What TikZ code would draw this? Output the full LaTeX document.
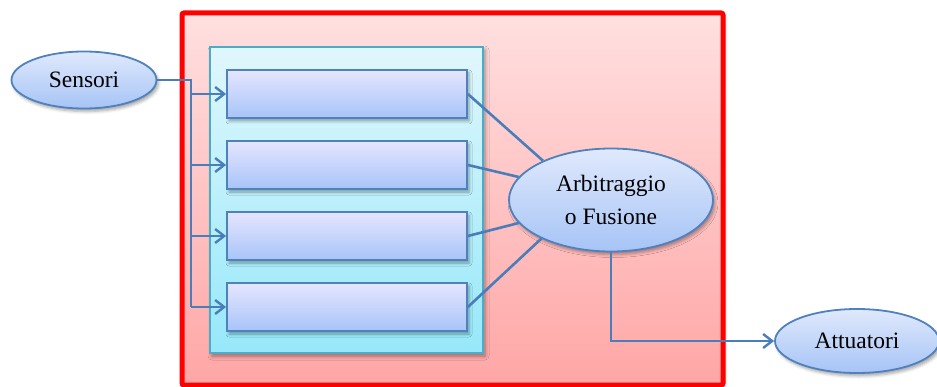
\documentclass[tikz,border=0pt]{standalone}
\usepackage{fontspec}
\setmainfont{Liberation Serif}
\usetikzlibrary{arrows.meta,shapes.geometric,shadows.blur}
\definecolor{wire}{HTML}{4A7EBB}
\definecolor{boxline}{HTML}{4F81BD}
\definecolor{panelline}{HTML}{4BACC6}
\tikzset{
  wirestyle/.style={draw=wire,line width=2.6pt},
  tip/.style={-{Straight Barb[length=9pt,width=14pt,line width=2.4pt]}},
  behavior/.style={rectangle,draw=boxline,line width=1.8pt,
    top color=blue!10!white,bottom color={rgb,255:red,168;green,196;blue,248},
    minimum width=240pt,minimum height=48pt,inner sep=0pt,
    blur shadow={shadow xshift=2pt,shadow yshift=-3pt,shadow blur radius=3pt,shadow opacity=35}},
  blob/.style={ellipse,draw=boxline,line width=1.8pt,
    top color={rgb,255:red,224;green,233;blue,252},bottom color={rgb,255:red,166;green,196;blue,246},
    inner sep=0pt,font=\fontsize{23.5}{33}\selectfont,align=center,
    blur shadow={shadow xshift=2pt,shadow yshift=-3pt,shadow blur radius=3pt,shadow opacity=35}},
}
\begin{document}
\begin{tikzpicture}[x=1pt,y=-1pt]
\useasboundingbox (0,0) rectangle (937,387);
% outer red frame
\path[draw=red,line width=5pt,rounded corners=2pt,
  top color={rgb,255:red,255;green,224;blue,224},bottom color={rgb,255:red,255;green,166;blue,166},
  blur shadow={shadow xshift=2pt,shadow yshift=-2pt,shadow blur radius=3pt,shadow opacity=30}]
  (182,13) rectangle (723,385);
% cyan panel
\path[draw=panelline,line width=1.6pt,
  top color={rgb,255:red,224;green,247;blue,252},bottom color={rgb,255:red,150;green,232;blue,250},
  blur shadow={shadow xshift=2pt,shadow yshift=-3pt,shadow blur radius=4pt,shadow opacity=40}]
  (210,47) rectangle (483,353);
% behaviour boxes
\node[behavior] (b1) at (347,94) {};
\node[behavior] (b2) at (347,165) {};
\node[behavior] (b3) at (347,236) {};
\node[behavior] (b4) at (347,307) {};
% ellipses
\node[blob,minimum width=145pt,minimum height=57pt] (sens) at (84,80) {Sensori};
\node[blob,minimum width=204pt,minimum height=103pt] (arb) at (611,200) {Arbitraggio\\o Fusione};
\node[blob,minimum width=164pt,minimum height=64pt] (att) at (857,341) {Attuatori};
% sensor bus
\coordinate (bus) at (191,0);
\draw[wirestyle] (sens.east) -- (sens.east -| bus) -- (b4.west -| bus);
\foreach \b in {b1,b2,b3,b4}
  \draw[wirestyle,tip] (\b.west -| bus) -- (\b.west);
% fusion inputs
\draw[wirestyle] (b1.east) -- (arb.150);
\draw[wirestyle] (b2.east) -- (arb.166);
\draw[wirestyle] (b3.east) -- (arb.194);
\draw[wirestyle] (b4.east) -- (arb.209);
% output to actuators
\draw[wirestyle,tip] (arb.south) |- (att.west);
\end{tikzpicture}
\end{document}
